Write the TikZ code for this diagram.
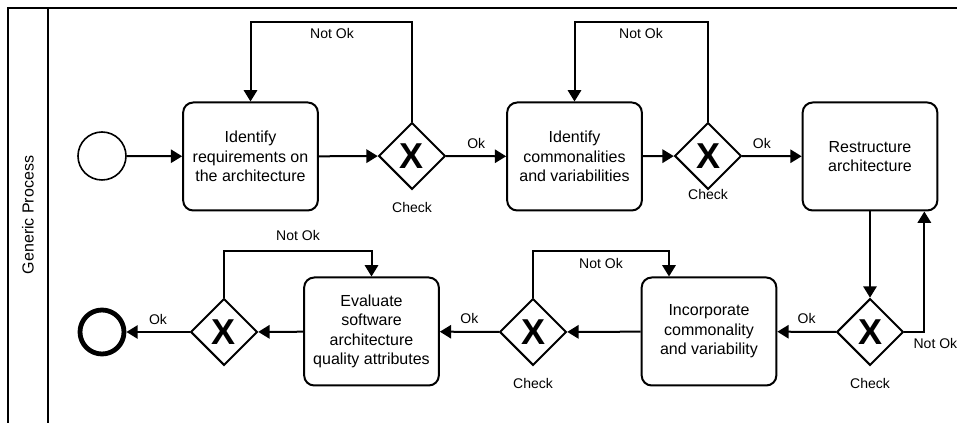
\documentclass[tikz,border=0pt]{standalone}
\usepackage{fontspec}
\setmainfont{Liberation Sans}
\usetikzlibrary{arrows.meta,shapes.geometric,calc}

\tikzset{
  txt/.style={font=\fontsize{10.5}{15}\selectfont},
  tasktxt/.style={font=\fontsize{12}{14.6}\selectfont},
  task/.style={draw, line width=1.5pt, rounded corners=7.5pt, align=center,
    minimum width=101pt, minimum height=81pt, inner sep=2pt, tasktxt},
  gate/.style={draw, diamond, aspect=1, line width=1.5pt, inner sep=0pt,
    minimum width=50pt, minimum height=50pt,
    font=\fontsize{27}{27}\selectfont\bfseries},
  startev/.style={draw, circle, line width=1.2pt, minimum size=36pt, inner sep=0pt},
  endev/.style={draw, circle, line width=3.6pt, minimum size=33pt, inner sep=0pt},
  flow/.style={line width=1.5pt, -{Triangle[length=8.5pt,width=10pt]}},
  lbl/.style={txt, inner sep=1pt},
}

\begin{document}
\begin{tikzpicture}[x=0.75pt,y=-0.75pt]
\useasboundingbox (0,0) rectangle (957,423);

% pool and lane header
\draw[line width=1.5pt] (8,430) -- (8,8) -- (970,8);
\draw[line width=1.5pt] (48,8) -- (48,430);
\node[tasktxt, rotate=90] (lane) at (28,215) {Generic Process};

% upper row
\node[startev] (start) at (102,156) {};
\node[task] (t1) at (250.5,156.5) {Identify\\requirements on\\the architecture};
\node[gate] (g1) at (412,156) {X};
\node[task] (t2) at (574.5,156.5) {Identify\\commonalities\\and variabilities};
\node[gate] (g2) at (708,156) {X};
\node[task] (t3) at (870,156.5) {Restructure\\architecture};

% lower row
\node[gate] (g4) at (870,332) {X};
\node[task] (t4) at (709,331.5) {Incorporate\\commonality\\and variability};
\node[gate] (g5) at (533,332) {X};
\node[task] (t5) at (371.5,331.5) {Evaluate\\software\\architecture\\quality attributes};
\node[gate] (g6) at (224,332) {X};
\node[endev] (end) at (102,332) {};

% gateway captions
\node[lbl] (c1) at (412,208) {Check};
\node[lbl] (c2) at (708,195) {Check};
\node[lbl] (c4) at (870,383) {Check};
\node[lbl] (c5) at (533,383) {Check};

% loop heights
\coordinate (hiloop) at (0,22);
\coordinate (loloop) at (0,251);

% sequence flows
\draw[flow] (start) -- (t1);
\draw[flow] (t1) -- (g1);
\draw[flow] (g1.north) -- (g1.north |- hiloop) -| (t1.north);
\node[lbl] (n1) at (332,34) {Not Ok};
\draw[flow] (g1) -- node[lbl, above=4pt] (o1) {Ok} (t2);

\draw[flow] (t2) -- (g2);
\draw[flow] (g2.north) -- (g2.north |- hiloop) -| (t2.north);
\node[lbl] (n2) at (641,34) {Not Ok};
\draw[flow] (g2) -- node[lbl, above=4pt, pos=0.33] (o2) {Ok} (t3);

\draw[flow] (t3.south) -- (g4.north);
\draw[flow] (g4.east) -| ([xshift=-10.5pt]t3.south east);
\node[lbl, anchor=west] (n4) at (912,343) {Not Ok};
\draw[flow] (g4) -- node[lbl, above=4pt] (o4) {Ok} (t4);

\draw[flow] (t4) -- (g5);
\draw[flow] (g5.north) -- (g5.north |- loloop) -| ([xshift=-30pt]t4.north);
\node[lbl] (n5) at (601,263) {Not Ok};
\draw[flow] (g5) -- node[lbl, above=4pt] (o5) {Ok} (t5);

\draw[flow] (t5) -- (g6);
\draw[flow] (g6.north) -- (g6.north |- loloop) -| (t5.north);
\node[lbl] (n6) at (298,235) {Not Ok};
\draw[flow] (g6) -- node[lbl, above=4pt] (o6) {Ok} (end);
\end{tikzpicture}
\end{document}
